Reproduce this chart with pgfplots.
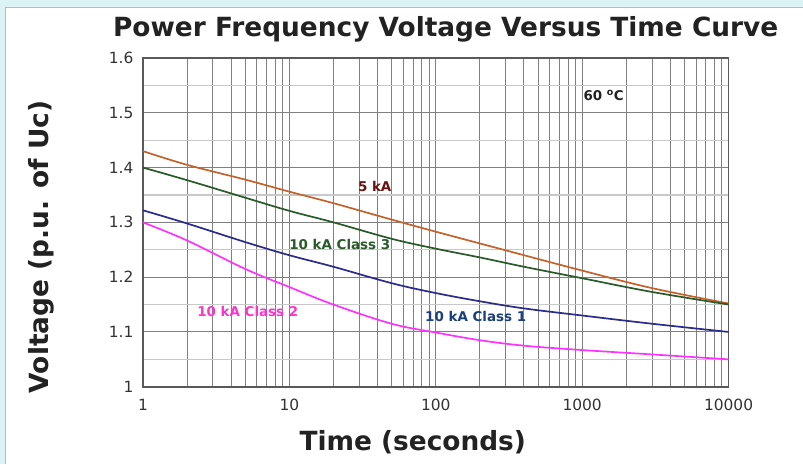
\documentclass[border=0pt]{standalone}
\usepackage{fontspec}
\setmainfont{DejaVu Sans}
\usepackage{pgfplots}
\pgfplotsset{compat=1.18}
\definecolor{bgcyan}{HTML}{DDF3F3}
\definecolor{framecyan}{HTML}{7FD3D8}
\definecolor{gridgray}{HTML}{808080}
\definecolor{minorgray}{HTML}{C8C8C8}
\definecolor{axisgray}{HTML}{5A5A5A}
\definecolor{txt}{HTML}{222222}
\definecolor{ticktxt}{HTML}{333333}
\definecolor{c5ka}{HTML}{C4622C}
\definecolor{lab5ka}{HTML}{6A1212}
\definecolor{cthree}{HTML}{2A5A2A}
\definecolor{cone}{HTML}{2B2B8C}
\definecolor{labone}{HTML}{1A3F7F}
\definecolor{ctwo}{HTML}{FF33FF}
\definecolor{labtwo}{HTML}{FF33CC}
\begin{document}
\begin{tikzpicture}[x=1bp,y=1bp]
\fill[bgcyan] (0,0) rectangle (803,464);
\fill[white] (6,0) rectangle (803,456);
\draw[framecyan, line width=1bp] (6,0) -- (6,456) -- (803,456);
\useasboundingbox (0,0) rectangle (803,464);
\node[font=\bfseries\fontsize{26.5}{30}\selectfont, text=txt] at (446,435) {Power Frequency Voltage Versus Time Curve};
\node[font=\bfseries\fontsize{26.5}{30}\selectfont, text=txt, rotate=90] at (41,217) {Voltage (p.u. of Uc)};
\node[font=\bfseries\fontsize{26.5}{30}\selectfont, text=txt] at (413,22) {Time (seconds)};
\begin{axis}[
  at={(143bp,77bp)}, anchor=south west, scale only axis,
  width=586bp, height=329bp,
  xmode=log, xmin=1, xmax=10000, ymin=1, ymax=1.6,
  xtick={1,10,100,1000,10000}, xticklabels={1,10,100,1000,10000},
  ytick={1,1.1,1.2,1.3,1.4,1.5,1.6},
  yticklabels={1,1.1,1.2,1.3,1.4,1.5,1.6},
  minor ytick={1.05,1.15,1.25,1.35,1.45,1.55},
  xmajorgrids, xminorgrids, ymajorgrids, yminorgrids,
  major grid style={draw=gridgray, line width=1bp},
  minor x grid style={draw=gridgray, line width=0.8bp},
  minor y grid style={draw=minorgray, line width=1.3bp},
  axis line style={draw=axisgray, line width=1.8bp},
  tick style={draw=none},
  ticklabel style={font=\fontsize{15.5}{17}\selectfont, text=ticktxt},
  xticklabel style={yshift=-9bp},
  yticklabel style={xshift=-6bp},
  /pgf/number format/assume math mode=true,
  every axis plot/.append style={line width=1.7bp, smooth, tension=0.6, no marks},
  clip=false,
]
\addplot[c5ka] coordinates {(1,1.430) (2,1.405) (5,1.378) (10,1.356) (20,1.335) (50,1.305) (100,1.283) (300,1.249) (1000,1.212) (3000,1.180) (10000,1.152)};
\addplot[cthree] coordinates {(1,1.400) (2,1.377) (5,1.345) (10,1.321) (20,1.300) (50,1.270) (100,1.252) (200,1.236) (400,1.219) (1000,1.198) (3000,1.173) (10000,1.150)};
\addplot[cone] coordinates {(1,1.322) (2,1.298) (5,1.264) (10,1.240) (20,1.219) (50,1.189) (100,1.171) (200,1.156) (400,1.143) (1000,1.130) (3000,1.115) (10000,1.100)};
\addplot[ctwo] coordinates {(1,1.300) (2,1.267) (5,1.215) (10,1.182) (20,1.150) (50,1.115) (100,1.099) (200,1.085) (400,1.075) (1000,1.067) (3000,1.059) (10000,1.050)};
\node[font=\bfseries\fontsize{13.5}{15}\selectfont, text=lab5ka] at (axis cs:38.3,1.366) {5 kA};
\node[font=\bfseries\fontsize{13.5}{15}\selectfont, text=cthree] at (axis cs:22.1,1.259) {10 kA Class 3};
\node[font=\bfseries\fontsize{13.5}{15}\selectfont, text=labtwo] at (axis cs:5.2,1.138) {10 kA Class 2};
\node[font=\bfseries\fontsize{13.5}{15}\selectfont, text=labone] at (axis cs:187.5,1.129) {10 kA Class 1};
\node[font=\bfseries\fontsize{13.5}{15}\selectfont, text=txt] at (axis cs:1403,1.531) {60 \textsuperscript{o}C};
\end{axis}
\end{tikzpicture}
\end{document}
